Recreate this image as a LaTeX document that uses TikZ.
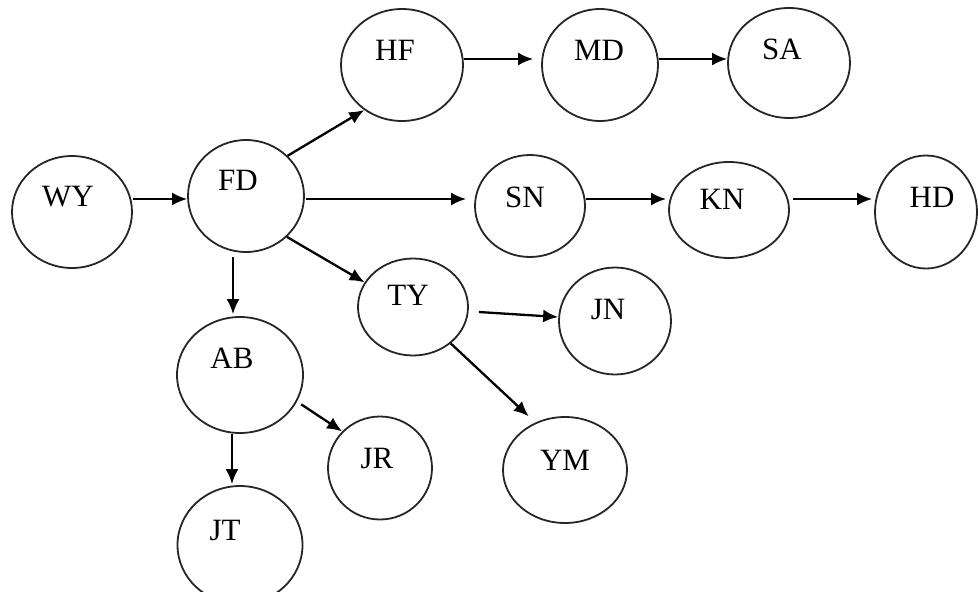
\documentclass[tikz,border=0pt]{standalone}
\usepackage{fontspec}
\setmainfont{Liberation Serif}
\usetikzlibrary{shapes.geometric,arrows.meta,calc}
\tikzset{
  ell/.style={ellipse, draw=black!85, line width=1.8pt, inner sep=0pt, fill=none},
  lbl/.style={inner sep=0pt, anchor=center, font=\fontsize{31}{31}\selectfont},
  arr/.style={line width=2.3pt, draw=black, -{Latex[length=15pt,width=13pt]}}
}
\begin{document}
\begin{tikzpicture}[x=1pt,y=-1pt]
\path[use as bounding box, fill=white] (0,0) rectangle (978,592);
\clip (0,0) rectangle (978,592);
% ellipses
\node[ell, minimum width=120pt, minimum height=112pt] (wy) at (72,212) {};
\node[ell, minimum width=116pt, minimum height=112pt] (fd) at (246,196) {};
\node[ell, minimum width=122pt, minimum height=112pt] (hf) at (402,65) {};
\node[ell, minimum width=116pt, minimum height=112pt] (md) at (600,65) {};
\node[ell, minimum width=122pt, minimum height=110pt] (sa) at (789,63) {};
\node[ell, minimum width=110pt, minimum height=102pt] (sn) at (530,206) {};
\node[ell, minimum width=120pt, minimum height=96pt] (kn) at (729,210) {};
\node[ell, minimum width=102pt, minimum height=113pt] (hd) at (926,212) {};
\node[ell, minimum width=110pt, minimum height=97pt] (ty) at (413,307) {};
\node[ell, minimum width=112pt, minimum height=107pt] (jn) at (615,321) {};
\node[ell, minimum width=126pt, minimum height=116pt] (ab) at (240,375) {};
\node[ell, minimum width=104pt, minimum height=103pt] (jr) at (380,468) {};
\node[ell, minimum width=124pt, minimum height=106pt] (ym) at (565,470) {};
\node[ell, minimum width=125pt, minimum height=118pt] (jt) at (240,545) {};
% labels
\node[lbl] (wyl) at ($(wy)+(-4,-15)$) {WY};
\node[lbl] (fdl) at ($(fd)+(-8,-16)$) {FD};
\node[lbl] (hfl) at ($(hf)+(-7,-15)$) {HF};
\node[lbl] (mdl) at ($(md)+(-1,-15)$) {MD};
\node[lbl] (sal) at ($(sa)+(-7,-14)$) {SA};
\node[lbl] (snl) at ($(sn)+(-5,-9)$) {SN};
\node[lbl] (knl) at ($(kn)+(-7,-11)$) {KN};
\node[lbl] (hdl) at ($(hd)+(6,-15)$) {HD};
\node[lbl] (tyl) at ($(ty)+(-5,-12)$) {TY};
\node[lbl] (jnl) at ($(jn)+(-7,-12)$) {JN};
\node[lbl] (abl) at ($(ab)+(-8,-17)$) {AB};
\node[lbl] (jrl) at ($(jr)+(-3,-10)$) {JR};
\node[lbl] (yml) at ($(ym)+(0,-10)$) {YM};
\node[lbl] (jtl) at ($(jt)+(-15,-15)$) {JT};
% connectors
\draw[arr] ([yshift=13pt]wy.east) -- ([yshift=13pt]wy.east -| fd.west);
\draw[arr] (fd.44) -- (hf.230);
\draw[arr, shorten <=1pt, shorten >=8pt] ([yshift=-3pt]fd.east) -- ([yshift=-3pt]fd.east -| sn.west);
\draw[arr] (fd.315) -- (ty.153);
\draw[arr, shorten <=4pt, shorten >=2pt] ([xshift=-13pt]fd.south) -- ([xshift=-13pt]fd.south |- ab.north);
\draw[arr, shorten >=8pt] ([yshift=6pt]hf.east) -- ([yshift=6pt]hf.east -| md.west);
\draw[arr] ([yshift=6pt]md.east) -- ([yshift=6pt]md.east -| sa.west);
\draw[arr, shorten >=2pt] ([yshift=7pt]sn.east) -- ([yshift=7pt]sn.east -| kn.west);
\draw[arr, shorten <=3pt, shorten >=2pt] ([yshift=11pt]kn.east) -- ([yshift=11pt]kn.east -| hd.west);
\draw[arr] ([shift={(10pt,-5pt)}]ty.east) -- ([yshift=4pt]jn.west);
\draw[arr, shorten >=9pt] (ty.316) -- (ym.122);
\draw[arr, shorten <=5pt] (ab.335) -- (jr.136);
\draw[arr, shorten >=1pt] ([xshift=-8pt]ab.south) -- ([xshift=-8pt]ab.south |- jt.north);
\end{tikzpicture}
\end{document}
